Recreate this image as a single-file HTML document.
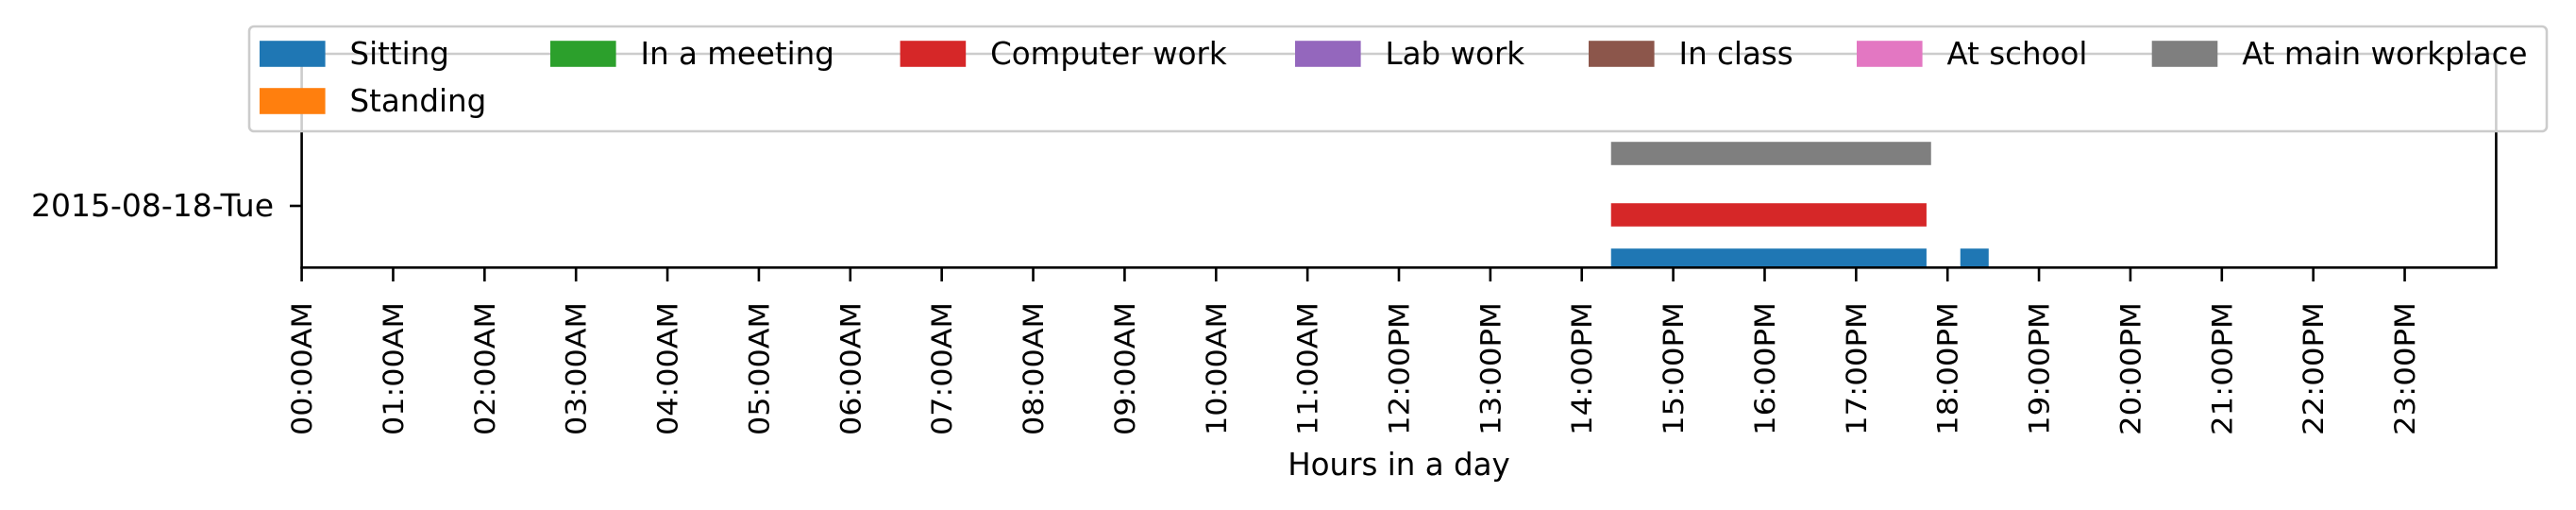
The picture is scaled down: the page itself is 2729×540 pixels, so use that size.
<!DOCTYPE html>
<html><head><meta charset="utf-8"><style>
html,body{margin:0;padding:0;background:#fff;}
svg{display:block;font-family:"DejaVu Sans","Liberation Sans",sans-serif;}
</style></head><body>
<svg id="chart" width="2729" height="540" viewBox="0 0 2729 540" xmlns="http://www.w3.org/2000/svg">
<defs><clipPath id="plotclip"><rect x="319.6" y="57" width="2324.8" height="226"/></clipPath></defs>
<rect x="0" y="0" width="2729" height="540" fill="#fff"/>
<g id="bars" clip-path="url(#plotclip)"></g>
<g id="axes">
<line x1="319.6" y1="57" x2="319.6" y2="284.5" stroke="#000" stroke-width="2.6"/>
<line x1="2644.4" y1="57" x2="2644.4" y2="284.5" stroke="#000" stroke-width="2.6"/>
<line x1="319.6" y1="57" x2="2644.4" y2="57" stroke="#000" stroke-width="2.6"/>
<line x1="318.3" y1="283.3" x2="2645.7" y2="283.3" stroke="#000" stroke-width="2.6"/>
<line x1="307" y1="218" x2="319.6" y2="218" stroke="#000" stroke-width="2.6"/>
<text x="290" y="229" font-size="32.5" text-anchor="end" textLength="257" lengthAdjust="spacingAndGlyphs">2015-08-18-Tue</text>
</g>
<g id="xticks"></g>
<text x="1482" y="503" font-size="32.5" text-anchor="middle">Hours in a day</text>
<g id="legend">
<rect x="264" y="28" width="2434" height="111" rx="5" fill="#fff" fill-opacity="0.8" stroke="#cccccc" stroke-width="2.6"/>
</g>
</svg>
<script>
var hourTicks = [0,1,2,3,4,5,6,7,8,9,10,11,12,13,14,15,16,17,18,19,20,21,22,23];
var tickLabels = ["00:00AM","01:00AM","02:00AM","03:00AM","04:00AM","05:00AM","06:00AM","07:00AM","08:00AM","09:00AM","10:00AM","11:00AM","12:00PM","13:00PM","14:00PM","15:00PM","16:00PM","17:00PM","18:00PM","19:00PM","20:00PM","21:00PM","22:00PM","23:00PM"];
var legendLabels = ["Sitting","In a meeting","Computer work","Lab work","In class","At school","At main workplace","Standing"];
var legendColors = ["#1f77b4","#2ca02c","#d62728","#9467bd","#8c564b","#e377c2","#7f7f7f","#ff7f0e"];
var barActivity = ["At main workplace","Computer work","Sitting","Sitting"];
var barStart = [14.32,14.32,14.32,18.14];
var barEnd = [17.82,17.77,17.77,18.45];
var barLevel = [1.11,-0.19,-1.15,-1.15];

var NS="http://www.w3.org/2000/svg";
function xScale(h){return 319.6 + h*(2644.4-319.6)/24;}
function yScale(v){return 218 - v*50;}
var barH = 24.6;
function mk(tag,attrs){var e=document.createElementNS(NS,tag);for(var k in attrs)e.setAttribute(k,attrs[k]);return e;}

var bars=document.getElementById('bars');
for(var i=0;i<barStart.length;i++){
  var c=legendColors[legendLabels.indexOf(barActivity[i])];
  var x0=xScale(barStart[i]), x1=xScale(barEnd[i]);
  var r=mk('rect',{x:x0,y:yScale(barLevel[i])-barH/2,width:x1-x0,height:barH,fill:c});
  
  
  bars.appendChild(r);
}
var xt=document.getElementById('xticks');
for(var j=0;j<hourTicks.length;j++){
  var x=xScale(hourTicks[j]);
  var t=mk('line',{x1:x,y1:283.3,x2:x,y2:298,stroke:'#000','stroke-width':2.6});
  
  
  xt.appendChild(t);
  var lb=mk('text',{x:0,y:0,'font-size':29,'text-anchor':'end',textLength:141,lengthAdjust:'spacingAndGlyphs',transform:'translate('+(x+10.5)+',320) rotate(-90)'});
  lb.textContent=tickLabels[j];
  
  
  xt.appendChild(lb);
}
var lg=document.getElementById('legend');
var colX=[275,583,953.6,1372,1683,1967,2279.7,275];
var legendTextW=[93,214,256,162,126,150,291,146];
var rowY=[57,107];
for(var k=0;k<legendLabels.length;k++){
  var rx=colX[k], cy=rowY[k<7?0:1];
  var h=mk('rect',{x:rx,y:cy-13.8,width:69.6,height:27.6,fill:legendColors[k]});
  
  
  lg.appendChild(h);
  var tx=mk('text',{x:rx+95.5,y:cy+11,'font-size':32.5});
  tx.textContent=legendLabels[k];
  
  
  lg.appendChild(tx);
}
</script>
</body></html>
